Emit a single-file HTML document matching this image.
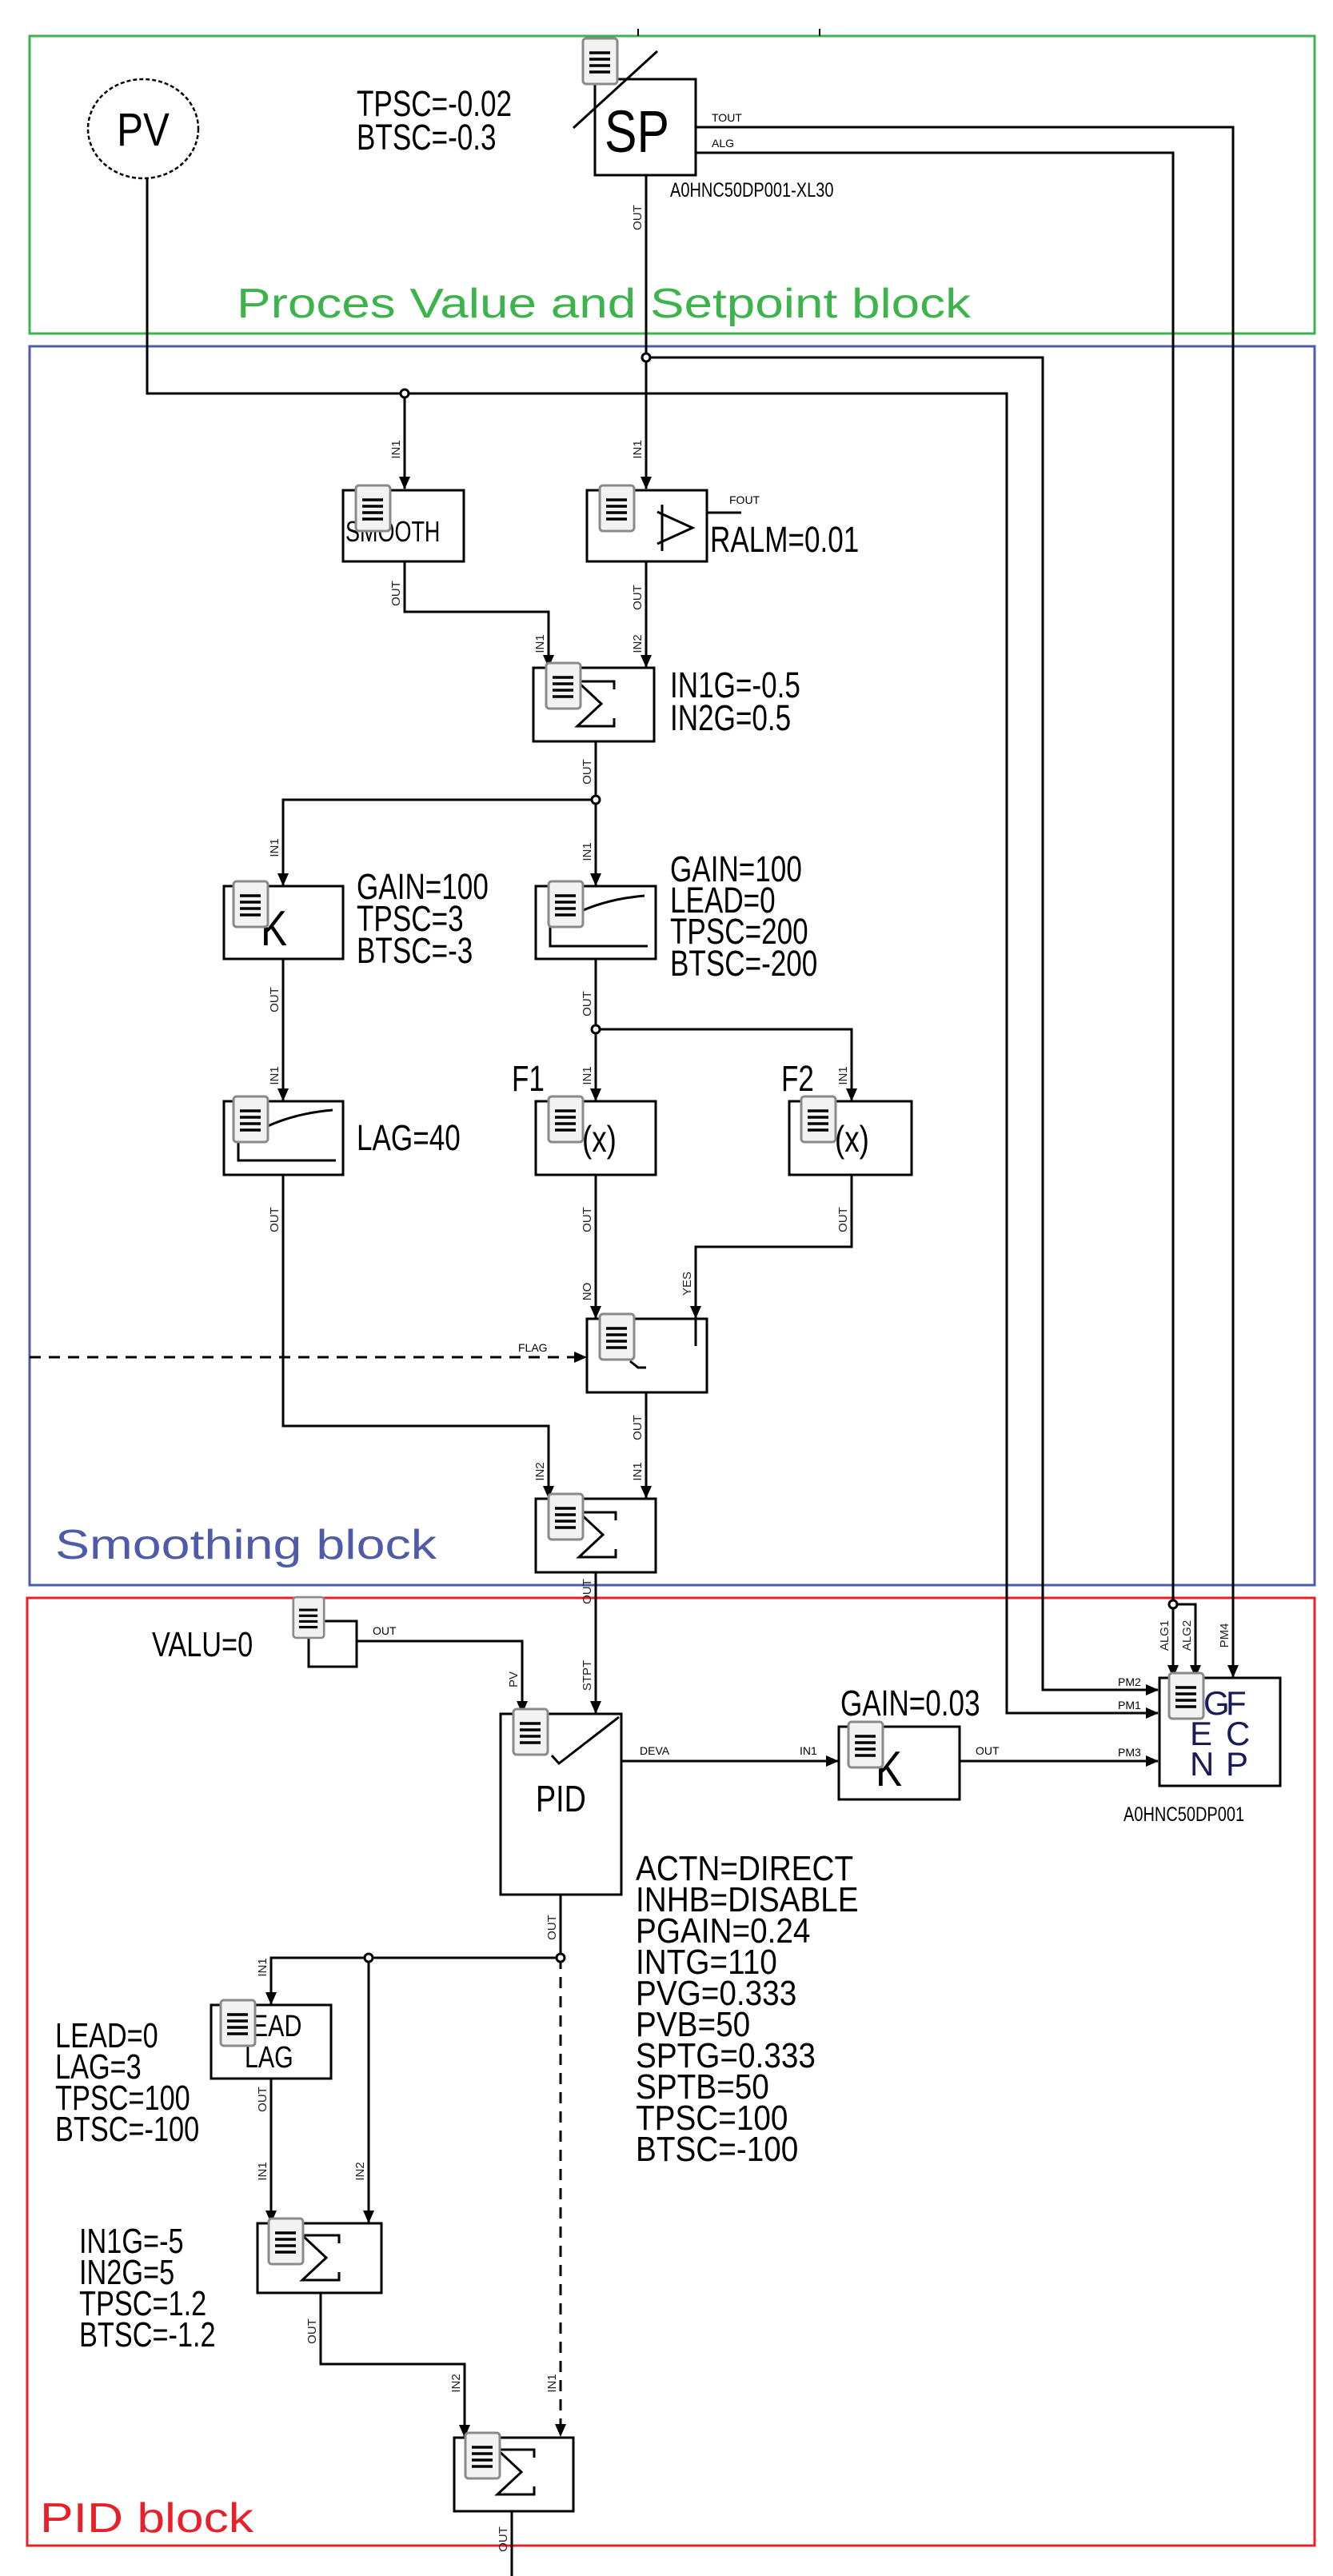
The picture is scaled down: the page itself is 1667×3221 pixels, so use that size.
<!DOCTYPE html>
<html><head><meta charset="utf-8"><style>
html,body{margin:0;padding:0;background:#fff}
svg{display:block}
text{font-family:"Liberation Sans",sans-serif}
.p{font-size:15px;text-anchor:middle;fill:#222}
.ln{fill:none;stroke:#000;stroke-width:3}
.bx{fill:#fff;stroke:#000;stroke-width:3}
.t{font-size:44px}
</style></head><body>
<svg width="1667" height="3221" viewBox="0 0 1667 3221" xmlns="http://www.w3.org/2000/svg">
<defs>
<marker id="a" markerUnits="userSpaceOnUse" markerWidth="16" markerHeight="16" refX="15" refY="8" orient="auto"><path d="M0,1 L16,8 L0,15 z" fill="#000"/></marker>
<symbol id="ic" viewBox="0 0 47 61" width="47" height="61">
<rect x="2" y="2" width="43" height="57" rx="4" fill="#f2f2f2" stroke="#8a8a8a" stroke-width="3"/>
<path d="M10 20H36M10 28H36M10 36H36M10 44H36" stroke="#000" stroke-width="3.5"/>
</symbol>
</defs>

<!-- group boxes -->
<rect x="37" y="45" width="1607" height="372" fill="none" stroke="#3cb44b" stroke-width="3"/>
<rect x="37" y="433" width="1607" height="1549" fill="none" stroke="#4f5aa8" stroke-width="3"/>
<rect x="34" y="1998" width="1610" height="1185" fill="none" stroke="#e8202a" stroke-width="3"/>
<path d="M798 36V45M1025 36V45" stroke="#000" stroke-width="2"/>

<text x="296" y="397" font-size="52" fill="#3cb44b" textLength="918" lengthAdjust="spacingAndGlyphs">Proces Value and Setpoint block</text>
<text x="69" y="1949" font-size="52" fill="#4f5aa8" textLength="477" lengthAdjust="spacingAndGlyphs">Smoothing block</text>
<text x="50" y="3166" font-size="52" fill="#e8202a" textLength="267" lengthAdjust="spacingAndGlyphs">PID block</text>

<!-- connectors -->
<polyline class="ln" points="184,223 184,492 1259,492 1259,2142 1448,2142" marker-end="url(#a)"/>
<polyline class="ln" points="506,492 506,611" marker-end="url(#a)"/>
<polyline class="ln" points="870,159 1542,159 1542,2097" marker-end="url(#a)"/>
<polyline class="ln" points="870,191 1467,191 1467,2097" marker-end="url(#a)"/>
<polyline class="ln" points="1467,2006 1495,2006 1495,2097" marker-end="url(#a)"/>
<polyline class="ln" points="808,219 808,611" marker-end="url(#a)"/>
<polyline class="ln" points="808,447 1304,447 1304,2113 1448,2113" marker-end="url(#a)"/>
<polyline class="ln" points="884,641 927,641"/>
<polyline class="ln" points="506,702 506,765 686,765 686,834" marker-end="url(#a)"/>
<polyline class="ln" points="808,702 808,834" marker-end="url(#a)"/>
<polyline class="ln" points="745,927 745,1107" marker-end="url(#a)"/>
<polyline class="ln" points="745,1000 354,1000 354,1107" marker-end="url(#a)"/>
<polyline class="ln" points="745,1199 745,1376" marker-end="url(#a)"/>
<polyline class="ln" points="745,1287 1065,1287 1065,1376" marker-end="url(#a)"/>
<polyline class="ln" points="354,1199 354,1376" marker-end="url(#a)"/>
<polyline class="ln" points="745,1469 745,1648" marker-end="url(#a)"/>
<polyline class="ln" points="1065,1469 1065,1559 870,1559 870,1648" marker-end="url(#a)"/>
<polyline class="ln" points="37,1697 733,1697" stroke-dasharray="14 10" marker-end="url(#a)"/>
<polyline class="ln" points="808,1741 808,1873" marker-end="url(#a)"/>
<polyline class="ln" points="354,1469 354,1783 686,1783 686,1873" marker-end="url(#a)"/>
<polyline class="ln" points="745,1966 745,2142" marker-end="url(#a)"/>
<polyline class="ln" points="446,2052 653,2052 653,2142" marker-end="url(#a)"/>
<polyline class="ln" points="777,2202 1048,2202" marker-end="url(#a)"/>
<polyline class="ln" points="1200,2202 1448,2202" marker-end="url(#a)"/>
<polyline class="ln" points="701,2369 701,2448 339,2448 339,2506" marker-end="url(#a)"/>
<polyline class="ln" points="461,2448 461,2779" marker-end="url(#a)"/>
<polyline class="ln" points="701,2448 701,3046" stroke-dasharray="14 10" marker-end="url(#a)"/>
<polyline class="ln" points="339,2599 339,2779" marker-end="url(#a)"/>
<polyline class="ln" points="401,2867 401,2956 581,2956 581,3047" marker-end="url(#a)"/>
<polyline class="ln" points="640,3140 640,3221"/>

<g fill="#fff" stroke="#000" stroke-width="3">
<circle cx="506" cy="492" r="5"/><circle cx="808" cy="447" r="5"/><circle cx="745" cy="1000" r="5"/>
<circle cx="745" cy="1287" r="5"/><circle cx="1467" cy="2006" r="5"/><circle cx="701" cy="2448" r="5"/><circle cx="461" cy="2448" r="5"/>
</g>

<!-- PV -->
<ellipse cx="179" cy="161" rx="69" ry="62" fill="#fff" stroke="#000" stroke-width="2.5" stroke-dasharray="5 3"/>
<text x="179" y="182" font-size="58" text-anchor="middle" transform="translate(179 0) scale(0.85 1) translate(-179 0)">PV</text>

<!-- SP -->
<rect class="bx" x="744" y="99" width="126" height="120"/>
<text x="0" y="0" font-size="74" transform="translate(756 190) scale(0.82 1)">SP</text>
<use href="#ic" x="727" y="46"/>
<line x1="717" y1="160" x2="822" y2="64" stroke="#000" stroke-width="3"/>
<text font-size="45" transform="translate(446 145) scale(0.78 1)">TPSC=-0.02</text>
<text font-size="45" transform="translate(446 187) scale(0.78 1)">BTSC=-0.3</text>
<text font-size="25" transform="translate(838 246) scale(0.8 1)">A0HNC50DP001-XL30</text>
<text x="890" y="152" font-size="14">TOUT</text>
<text x="890" y="184" font-size="14">ALG</text>

<!-- SMOOTH -->
<rect class="bx" x="429" y="613" width="151" height="89"/>
<text font-size="36" transform="translate(432 677) scale(0.75 1)">SMOOTH</text>
<use href="#ic" x="443" y="605"/>
<!-- alarm -->
<rect class="bx" x="734" y="613" width="150" height="89"/>
<path d="M828 631V689M822 640L866 660L822 680" class="ln"/>
<use href="#ic" x="748" y="605"/>
<text x="912" y="630" font-size="14">FOUT</text>
<text font-size="45" transform="translate(888 690) scale(0.78 1)">RALM=0.01</text>

<!-- SUM1 -->
<rect class="bx" x="667" y="835" width="151" height="92"/>
<path d="M768 862V852H722L752 880L722 908H768V898" class="ln"/>
<use href="#ic" x="681" y="827"/>
<text font-size="45" transform="translate(838 872) scale(0.78 1)">IN1G=-0.5</text>
<text font-size="45" transform="translate(838 913) scale(0.78 1)">IN2G=0.5</text>

<!-- K -->
<rect class="bx" x="280" y="1108" width="149" height="91"/>
<text font-size="62" transform="translate(326 1182) scale(0.8 1)">K</text>
<use href="#ic" x="290" y="1100"/>
<text font-size="45" transform="translate(446 1124) scale(0.78 1)">GAIN=100</text>
<text font-size="45" transform="translate(446 1164) scale(0.78 1)">TPSC=3</text>
<text font-size="45" transform="translate(446 1204) scale(0.78 1)">BTSC=-3</text>

<!-- LEADLAG 1 -->
<rect class="bx" x="670" y="1108" width="150" height="91"/>
<path d="M725 1140Q760 1124 806 1120M688 1157V1183H810" class="ln"/>
<use href="#ic" x="684" y="1100"/>
<text font-size="45" transform="translate(838 1102) scale(0.78 1)">GAIN=100</text>
<text font-size="45" transform="translate(838 1141) scale(0.78 1)">LEAD=0</text>
<text font-size="45" transform="translate(838 1180) scale(0.78 1)">TPSC=200</text>
<text font-size="45" transform="translate(838 1220) scale(0.78 1)">BTSC=-200</text>

<!-- LAG -->
<rect class="bx" x="280" y="1377" width="149" height="92"/>
<path d="M335 1408Q370 1392 416 1388M298 1425V1451H420" class="ln"/>
<use href="#ic" x="290" y="1369"/>
<text font-size="45" transform="translate(446 1438) scale(0.78 1)">LAG=40</text>

<!-- F1 F2 -->
<rect class="bx" x="670" y="1377" width="150" height="92"/>
<text font-size="46" transform="translate(728 1440) scale(0.8 1)">(x)</text>
<use href="#ic" x="684" y="1369"/>
<text font-size="45" transform="translate(640 1364) scale(0.78 1)">F1</text>
<rect class="bx" x="987" y="1377" width="153" height="92"/>
<text font-size="46" transform="translate(1044 1440) scale(0.8 1)">(x)</text>
<use href="#ic" x="1000" y="1369"/>
<text font-size="45" transform="translate(977 1364) scale(0.78 1)">F2</text>

<!-- switch -->
<rect class="bx" x="734" y="1649" width="150" height="92"/>
<path d="M870 1649V1683M788 1702L798 1710H808" class="ln"/>
<use href="#ic" x="748" y="1641"/>
<text x="648" y="1690" font-size="14">FLAG</text>

<!-- SUM2 -->
<rect class="bx" x="670" y="1874" width="150" height="92"/>
<path d="M770 1901V1891H724L754 1919L724 1947H770V1937" class="ln"/>
<use href="#ic" x="684" y="1866"/>

<!-- VALU -->
<rect class="bx" x="386" y="2027" width="60" height="57"/>
<use href="#ic" x="365" y="1995" width="42" height="55"/>
<text font-size="44" transform="translate(190 2071) scale(0.78 1)">VALU=0</text>
<text x="466" y="2044" font-size="14">OUT</text>

<!-- PID -->
<rect class="bx" x="626" y="2143" width="151" height="226"/>
<path d="M690 2195L699 2205L774 2147" class="ln"/>
<use href="#ic" x="640" y="2135"/>
<text font-size="46" transform="translate(670 2265) scale(0.82 1)">PID</text>
<text x="800" y="2194" font-size="14">DEVA</text>
<text x="1000" y="2194" font-size="14">IN1</text>
<text x="1220" y="2194" font-size="14">OUT</text>

<!-- K2 -->
<rect class="bx" x="1049" y="2159" width="151" height="91"/>
<text font-size="62" transform="translate(1095 2233) scale(0.8 1)">K</text>
<use href="#ic" x="1059" y="2151"/>
<text font-size="45" transform="translate(1051 2145) scale(0.78 1)">GAIN=0.03</text>

<!-- FCP -->
<rect class="bx" x="1450" y="2098" width="151" height="135"/>
<g font-size="42" fill="#1a1a5a">
<text x="1505" y="2144">G</text>
<text x="1533" y="2144">F</text>
<text x="1488" y="2182">E</text>
<text x="1533" y="2182">C</text>
<text x="1488" y="2220">N</text>
<text x="1533" y="2220">P</text>
</g>
<use href="#ic" x="1460" y="2090"/>
<text font-size="25" transform="translate(1405 2277) scale(0.8 1)">A0HNC50DP001</text>
<text x="1398" y="2108" font-size="14">PM2</text>
<text x="1398" y="2137" font-size="14">PM1</text>
<text x="1398" y="2196" font-size="14">PM3</text>

<!-- LEADLAG 2 -->
<rect class="bx" x="264" y="2507" width="150" height="92"/>
<text font-size="38" transform="translate(298 2546) scale(0.8 1)">LEAD</text>
<text font-size="38" transform="translate(306 2585) scale(0.8 1)">LAG</text>
<use href="#ic" x="274" y="2499"/>
<text font-size="44" transform="translate(69 2560) scale(0.78 1)">LEAD=0</text>
<text font-size="44" transform="translate(69 2599) scale(0.78 1)">LAG=3</text>
<text font-size="44" transform="translate(69 2638) scale(0.78 1)">TPSC=100</text>
<text font-size="44" transform="translate(69 2677) scale(0.78 1)">BTSC=-100</text>

<!-- SUM3 -->
<rect class="bx" x="322" y="2780" width="155" height="87"/>
<path d="M424 2805V2795H378L408 2823L378 2851H424V2841" class="ln"/>
<use href="#ic" x="334" y="2772"/>
<text font-size="44" transform="translate(99 2817) scale(0.78 1)">IN1G=-5</text>
<text font-size="44" transform="translate(99 2856) scale(0.78 1)">IN2G=5</text>
<text font-size="44" transform="translate(99 2895) scale(0.78 1)">TPSC=1.2</text>
<text font-size="44" transform="translate(99 2934) scale(0.78 1)">BTSC=-1.2</text>

<!-- SUM4 -->
<rect class="bx" x="568" y="3048" width="149" height="92"/>
<path d="M668 3073V3063H622L652 3091L622 3119H668V3109" class="ln"/>
<use href="#ic" x="580" y="3040"/>

<!-- PID params -->
<g font-size="44">
<text transform="translate(795 2351) scale(0.88 1)">ACTN=DIRECT</text>
<text transform="translate(795 2390) scale(0.88 1)">INHB=DISABLE</text>
<text transform="translate(795 2429) scale(0.88 1)">PGAIN=0.24</text>
<text transform="translate(795 2468) scale(0.88 1)">INTG=110</text>
<text transform="translate(795 2507) scale(0.88 1)">PVG=0.333</text>
<text transform="translate(795 2546) scale(0.88 1)">PVB=50</text>
<text transform="translate(795 2585) scale(0.88 1)">SPTG=0.333</text>
<text transform="translate(795 2624) scale(0.88 1)">SPTB=50</text>
<text transform="translate(795 2663) scale(0.88 1)">TPSC=100</text>
<text transform="translate(795 2702) scale(0.88 1)">BTSC=-100</text>
</g>

<!-- rotated port labels -->
<g class="p">
<text transform="translate(802 272) rotate(-90)">OUT</text>
<text transform="translate(500 562) rotate(-90)">IN1</text>
<text transform="translate(802 562) rotate(-90)">IN1</text>
<text transform="translate(500 742) rotate(-90)">OUT</text>
<text transform="translate(802 747) rotate(-90)">OUT</text>
<text transform="translate(680 805) rotate(-90)">IN1</text>
<text transform="translate(802 805) rotate(-90)">IN2</text>
<text transform="translate(739 965) rotate(-90)">OUT</text>
<text transform="translate(348 1060) rotate(-90)">IN1</text>
<text transform="translate(739 1065) rotate(-90)">IN1</text>
<text transform="translate(348 1250) rotate(-90)">OUT</text>
<text transform="translate(739 1255) rotate(-90)">OUT</text>
<text transform="translate(348 1345) rotate(-90)">IN1</text>
<text transform="translate(739 1345) rotate(-90)">IN1</text>
<text transform="translate(1059 1345) rotate(-90)">IN1</text>
<text transform="translate(348 1525) rotate(-90)">OUT</text>
<text transform="translate(739 1525) rotate(-90)">OUT</text>
<text transform="translate(1059 1525) rotate(-90)">OUT</text>
<text transform="translate(739 1615) rotate(-90)">NO</text>
<text transform="translate(864 1605) rotate(-90)">YES</text>
<text transform="translate(802 1785) rotate(-90)">OUT</text>
<text transform="translate(680 1840) rotate(-90)">IN2</text>
<text transform="translate(802 1840) rotate(-90)">IN1</text>
<text transform="translate(739 1990) rotate(-90)">OUT</text>
<text transform="translate(647 2100) rotate(-90)">PV</text>
<text transform="translate(739 2095) rotate(-90)">STPT</text>
<text transform="translate(695 2410) rotate(-90)">OUT</text>
<text transform="translate(333 2460) rotate(-90)">IN1</text>
<text transform="translate(333 2625) rotate(-90)">OUT</text>
<text transform="translate(333 2715) rotate(-90)">IN1</text>
<text transform="translate(455 2715) rotate(-90)">IN2</text>
<text transform="translate(395 2915) rotate(-90)">OUT</text>
<text transform="translate(575 2980) rotate(-90)">IN2</text>
<text transform="translate(695 2980) rotate(-90)">IN1</text>
<text transform="translate(634 3175) rotate(-90)">OUT</text>
<text transform="translate(1461 2045) rotate(-90)">ALG1</text>
<text transform="translate(1489 2045) rotate(-90)">ALG2</text>
<text transform="translate(1536 2045) rotate(-90)">PM4</text>
</g>
</svg>
</body></html>
